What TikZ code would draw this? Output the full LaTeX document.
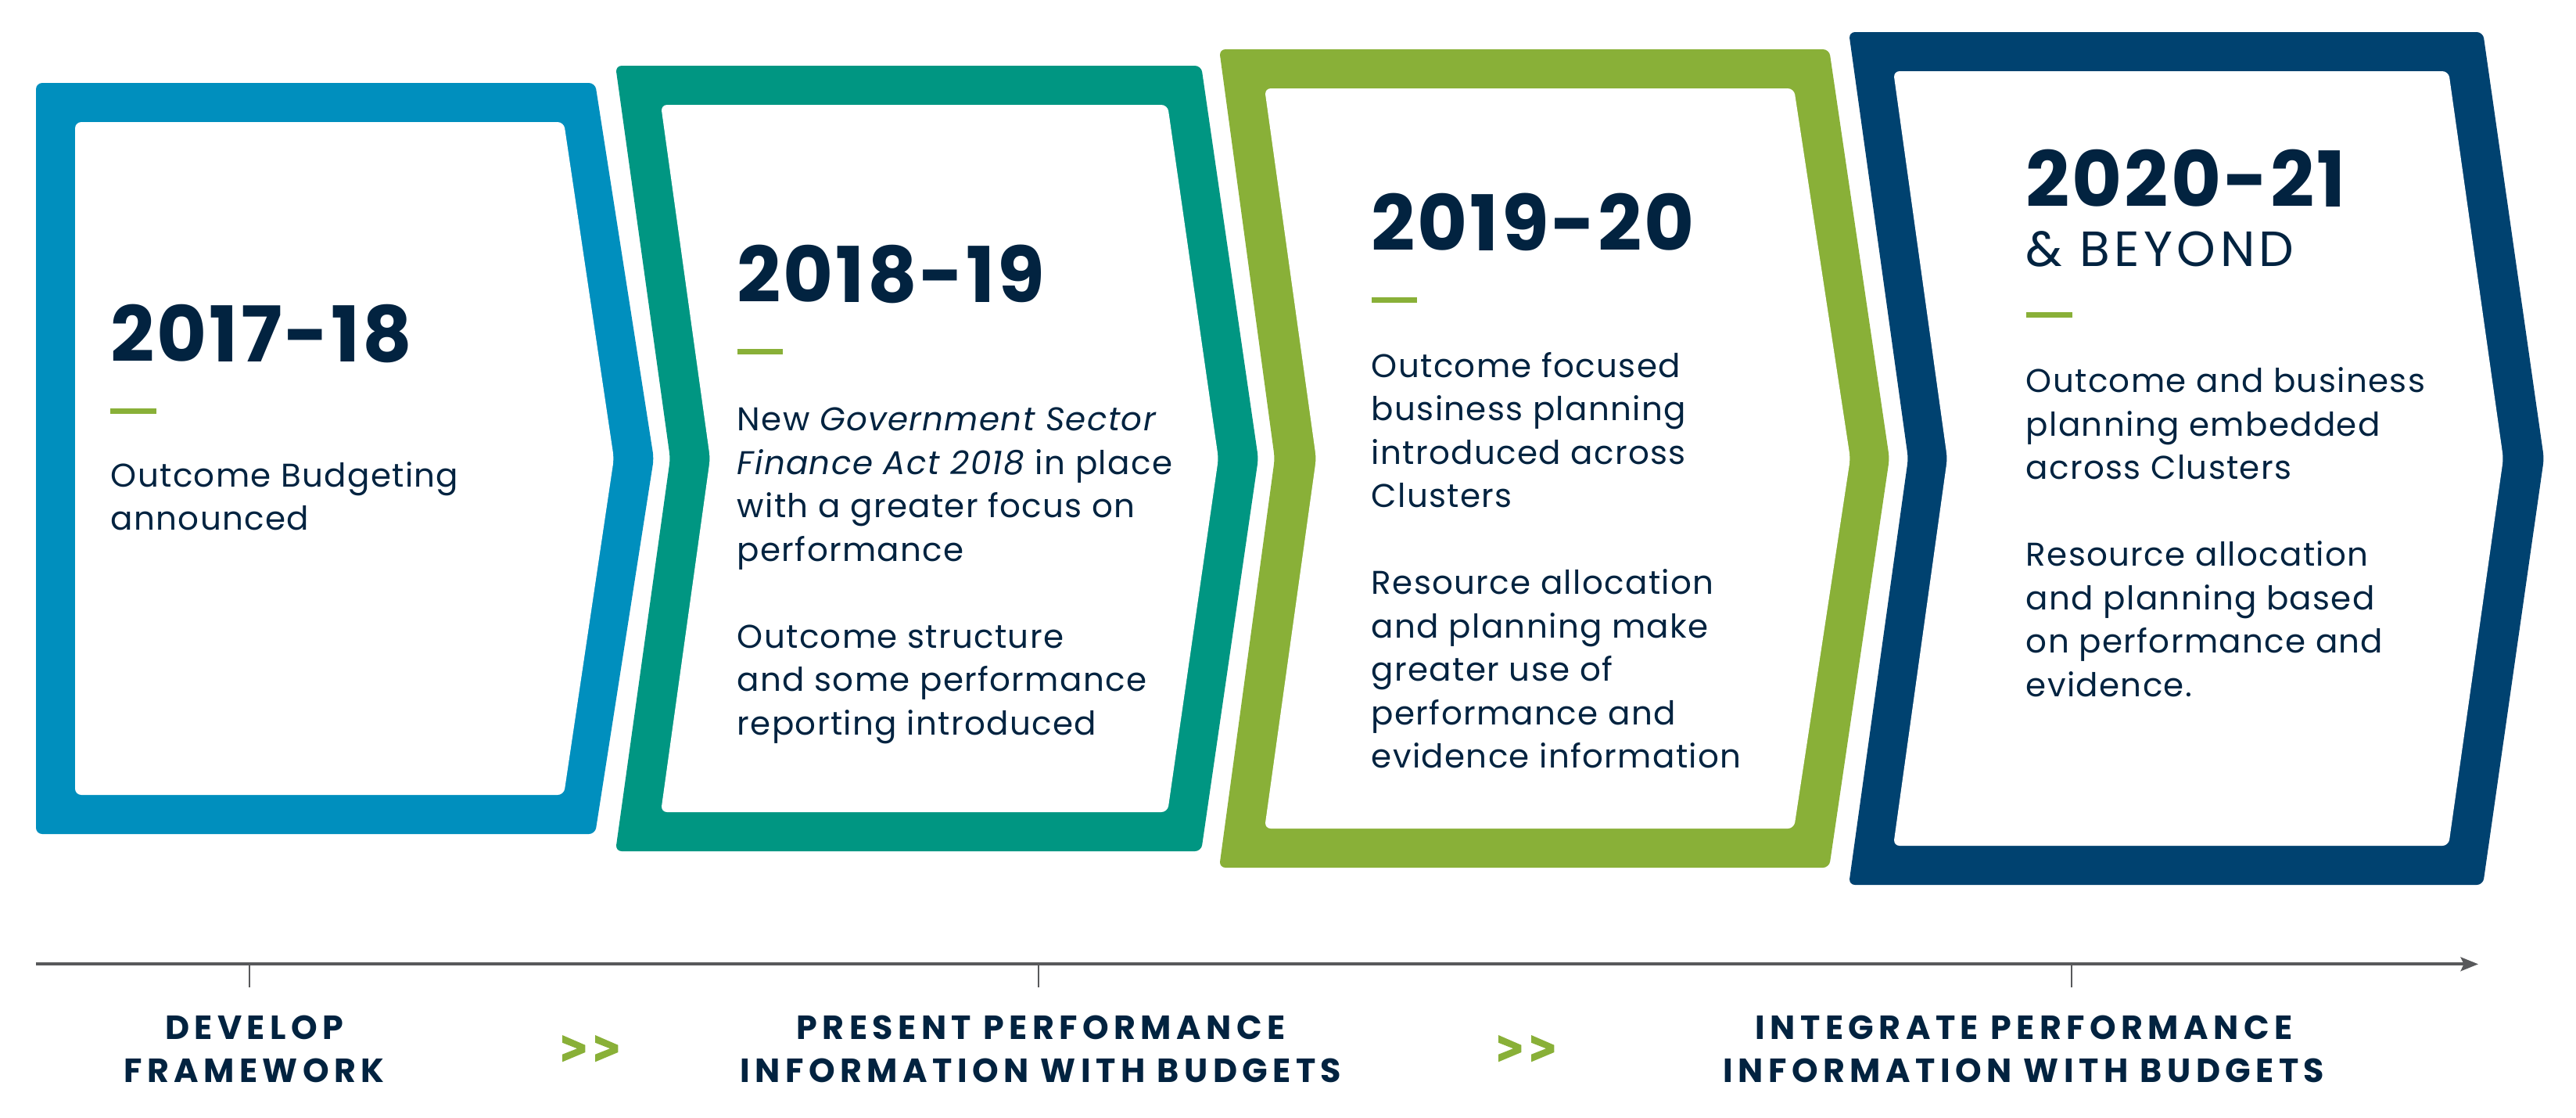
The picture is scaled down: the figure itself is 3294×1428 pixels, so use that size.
\documentclass[tikz,border=0pt]{standalone}
\usepackage{fontspec}
\setmainfont{Poppins}
\usetikzlibrary{arrows.meta}
\definecolor{cblue}{HTML}{008FBE}
\definecolor{cteal}{HTML}{009682}
\definecolor{cgreen}{HTML}{89B038}
\definecolor{cnavy}{HTML}{004270}
\definecolor{ink}{HTML}{022340}
\definecolor{axisgray}{HTML}{58595B}
\newcommand\bodyfont{\fontsize{10.5pt}{13.875pt}\selectfont\addfontfeature{LetterSpace=3.2}}
\newcommand\yearfont{\fontsize{24.6pt}{28pt}\selectfont\bfseries\addfontfeature{LetterSpace=3}}
\newcommand\beyondfont{\fontsize{15.8pt}{18pt}\selectfont\addfontfeature{LetterSpace=8.5}}
\newcommand\labfont{\fontsize{10.7pt}{14pt}\selectfont\bfseries\addfontfeature{LetterSpace=15}}
\newcommand\textlines[4]{%
  \foreach \kk/\txt in {#4} {\node[body] (#1-\kk) at ({#2},{#3+\kk*55.5}) {\txt};}}
\newcommand\chev[3]{%
  \fill[cgreen] (#2,#3) -- ++(29.3,12.7) -- ++(0,9.3) -- ++(-29.3,12.3) -- ++(0,-9.6) -- ++(19,-7.5) -- ++(-19,-7.5) -- cycle;}
\begin{document}
\begin{tikzpicture}[x=0.25pt,y=-0.25pt,
  body/.style={font=\bodyfont, text=ink, inner sep=0pt, anchor=base west},
  year/.style={font=\yearfont, text=ink, inner sep=0pt, anchor=base west},
  lab/.style={font=\labfont, text=ink, inner sep=0pt, anchor=base},
  dashbar/.style={fill=cgreen},
  tick/.style={draw=axisgray, line width=0.6pt}]
\useasboundingbox (0,0) rectangle (3294,1428);
\fill[white] (0,0) rectangle (3294,1428);
% ---------- shapes ----------
\fill[cblue, rounded corners=2pt] (46,106) -- (761,106) -- (836,586) -- (761,1066) -- (46,1066) -- cycle;
\fill[white, rounded corners=2pt] (96,156) -- (721,156) -- (785,586) -- (721,1016) -- (96,1016) -- cycle;
\fill[cteal, rounded corners=2pt] (787,84) -- (1536,84) -- (1609,586) -- (1536,1088) -- (787,1088) -- (857,586) -- cycle;
\fill[white, rounded corners=2pt] (845,134) -- (1493,134) -- (1558,586) -- (1493,1038) -- (845,1038) -- (908,586) -- cycle;
\fill[cgreen, rounded corners=2pt] (1559,63) -- (2339,63) -- (2416,586) -- (2339,1109) -- (1559,1109) -- (1630,586) -- cycle;
\fill[white, rounded corners=2pt] (1617,113) -- (2294,113) -- (2366,586) -- (2294,1059) -- (1617,1059) -- (1683,586) -- cycle;
\fill[cnavy, rounded corners=2pt] (2364,41) -- (3175,41) -- (3253,586) -- (3175,1131) -- (2364,1131) -- (2440,586) -- cycle;
\fill[white, rounded corners=2pt] (2421,91) -- (3131,91) -- (3201,586) -- (3131,1081) -- (2421,1081) -- (2490,586) -- cycle;
% ---------- box 1 ----------
\node[year] (y1) at (141,462.3) {2017-18};
\fill[dashbar] (141,521.7) rectangle (200,528.7);
\textlines{b1}{141}{622.3}{0/Outcome Budgeting,1/announced}
% ---------- box 2 ----------
\node[year] (y2) at (942,386.7) {2018-19};
\fill[dashbar] (943,446) rectangle (1001,453.3);
\textlines{b2}{942}{550.7}{0/New \textit{Government Sector},1/\textit{Finance Act 2018} in place,2/with a greater focus on,3/performance,5/Outcome structure,6/and some performance,7/reporting introduced}
% ---------- box 3 ----------
\node[year] (y3) at (1753,320) {2019-20};
\fill[dashbar] (1754,379.5) rectangle (1812,386.5);
\textlines{b3}{1753}{482}{0/Outcome focused,1/business planning,2/introduced across,3/Clusters,5/Resource allocation,6/and planning make,7/greater use of,8/performance and,9/evidence information}
% ---------- box 4 ----------
\node[year] (y4) at (2590,264.3) {2020-21};
\node[font=\beyondfont, text=ink, inner sep=0pt, anchor=base west] (y4b) at (2590,340) {\& BEYOND};
\fill[dashbar] (2591,399) rectangle (2650,406);
\textlines{b4}{2590}{501.7}{0/Outcome and business,1/planning embedded,2/across Clusters,4/Resource allocation,5/and planning based,6/on performance and,7/evidence.}
% ---------- timeline ----------
\coordinate (axs) at (46,1232.3);
\coordinate (axe) at (3169,1232.3);
\draw[axisgray, line width=1pt, -{Stealth[length=5.6pt, width=4.4pt, inset=1pt]}] (axs) -- (axe);
\coordinate (t1) at (319,1233); \coordinate (t1e) at (319,1262);
\coordinate (t2) at (1328,1233); \coordinate (t2e) at (1328,1262);
\coordinate (t3) at (2649,1233); \coordinate (t3e) at (2649,1262);
\draw[tick] (t1) -- (t1e);
\draw[tick] (t2) -- (t2e);
\draw[tick] (t3) -- (t3e);
% ---------- phase labels ----------
\node[lab] (l1a) at (325,1328) {DEVELOP};
\node[lab] (l1b) at (325,1383) {FRAMEWORK};
\node[lab] (l2a) at (1331,1328) {PRESENT PERFORMANCE};
\node[lab] (l2b) at (1331,1383) {INFORMATION WITH BUDGETS};
\node[lab] (l3a) at (2588,1328) {INTEGRATE PERFORMANCE};
\node[lab] (l3b) at (2588,1383) {INFORMATION WITH BUDGETS};
\chev{c1}{719}{1323}
\chev{c2}{761}{1323}
\chev{c3}{1916}{1323}
\chev{c4}{1958}{1323}
\end{tikzpicture}
\end{document}
